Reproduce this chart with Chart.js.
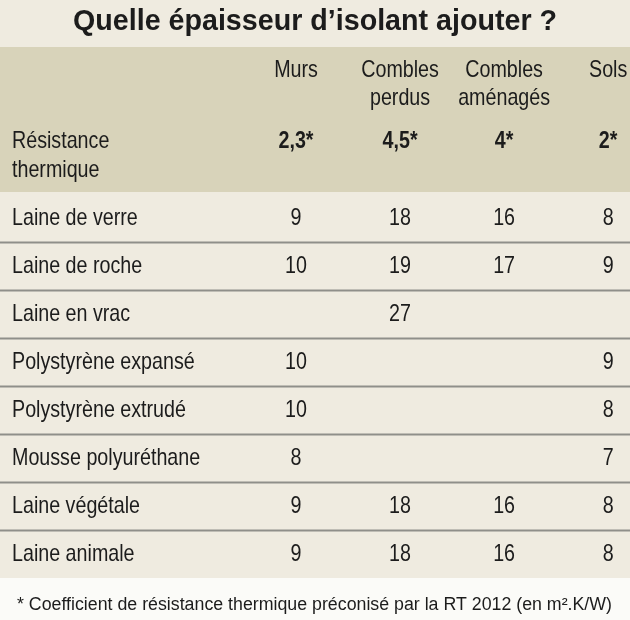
<!DOCTYPE html>
<html>
<head>
<meta charset="utf-8">
<script src="https://cdn.jsdelivr.net/npm/chart.js@4"></script>
<style>
  body { margin: 0; background: #fbfbf8; }
  #wrap { width: 630px; height: 620px; }
</style>
</head>
<body>
<div id="wrap"><canvas id="tbl"></canvas></div>
<script>
// Données du tableau
const title = 'Quelle épaisseur d\u2019isolant ajouter ?';
const columns = [['Murs'], ['Combles', 'perdus'], ['Combles', 'aménagés'], ['Sols']];
const resistance = ['2,3*', '4,5*', '4*', '2*'];
const materials = ['Laine de verre', 'Laine de roche', 'Laine en vrac', 'Polystyrène expansé',
                   'Polystyrène extrudé', 'Mousse polyuréthane', 'Laine végétale', 'Laine animale'];
const murs     = [9, 10, null, 10, 10, 8, 9, 9];
const perdus   = [18, 19, 27, null, null, null, 18, 18];
const amenages = [16, 17, null, null, null, null, 16, 16];
const sols     = [8, 9, null, 9, 8, 7, 8, 8];
const footnote = '* Coefficient de résistance thermique préconisé par la RT 2012 (en m².K/W)';

const series = [murs, perdus, amenages, sols];
const FONT = '"Liberation Sans", Arial, sans-serif';

const points = [];
series.forEach((vals, c) => {
    vals.forEach((v, r) => {
        if (v !== null) points.push({ x: c + 1, y: materials[r], v: v });
    });
});

// texte compressé horizontalement (police condensée)
function drawText(ctx, t, x, y, align, sx, fitWidth) {
    ctx.save();
    if (fitWidth) sx = fitWidth / ctx.measureText(t).width;
    ctx.translate(x, y);
    ctx.scale(sx, 1);
    ctx.textAlign = align;
    ctx.fillText(t, 0, 0);
    ctx.restore();
}

const SX = 0.82;

const tablePlugin = {
    id: 'tablePlugin',
    beforeDraw(chart) {
        const ctx = chart.ctx;
        const xs = chart.scales.x, ys = chart.scales.y;
        const W = chart.width;
        const rowH = ys.getPixelForValue(1) - ys.getPixelForValue(0);
        const top = ys.getPixelForValue(0) - rowH / 2;
        const bottom = ys.getPixelForValue(materials.length - 1) + rowH / 2;

        ctx.save();
        ctx.fillStyle = '#fbfbf8';
        ctx.fillRect(0, 0, W, chart.height);
        ctx.fillStyle = '#efebe0';
        ctx.fillRect(0, 0, W, bottom);
        ctx.fillStyle = '#d8d3ba';
        ctx.fillRect(0, top - 147, W, 145);

        // séparateurs
        ctx.strokeStyle = '#8f8f8a';
        ctx.lineWidth = 2;
        for (let i = 1; i < materials.length; i++) {
            const y = Math.round(top + i * rowH) + 0.5;
            ctx.beginPath(); ctx.moveTo(0, y); ctx.lineTo(W, y); ctx.stroke();
        }

        ctx.fillStyle = '#1c1c1c';
        ctx.textBaseline = 'middle';

        // titre
        ctx.font = 'bold 30px ' + FONT;
        drawText(ctx, title, W / 2, 22, 'center', 1, 484);

        // en-têtes
        ctx.font = '24px ' + FONT;
        columns.forEach((lines, c) => {
            const x = xs.getPixelForValue(c + 1);
            lines.forEach((t, i) => drawText(ctx, t, x, top - 124 + i * 28, 'center', SX));
        });
        ctx.font = 'bold 24px ' + FONT;
        resistance.forEach((t, c) => drawText(ctx, t, xs.getPixelForValue(c + 1), top - 53, 'center', SX));
        ctx.font = '24px ' + FONT;
        drawText(ctx, 'Résistance', 12, top - 53, 'left', SX);
        drawText(ctx, 'thermique', 12, top - 24, 'left', SX);

        // lignes
        materials.forEach(m => drawText(ctx, m, 12, ys.getPixelForValue(m), 'left', SX));
        points.forEach(p => drawText(ctx, String(p.v), xs.getPixelForValue(p.x), ys.getPixelForValue(p.y), 'center', SX));

        // note
        ctx.font = '18px ' + FONT;
        drawText(ctx, footnote, 17, 605, 'left', 1, 595);
        ctx.restore();
    }
};

new Chart(document.getElementById('tbl'), {
    type: 'scatter',
    data: { datasets: [{ data: points, pointRadius: 0, pointHoverRadius: 0 }] },
    options: {
        responsive: true,
        maintainAspectRatio: false,
        animation: false,
        events: [],
        layout: { padding: { left: 244, right: 0, top: 194, bottom: 42 } },
        plugins: { legend: { display: false }, tooltip: { enabled: false } },
        scales: {
            x: { type: 'linear', min: 0.5, max: 4.21, display: false },
            y: { type: 'category', labels: materials, offset: true, display: false }
        }
    },
    plugins: [tablePlugin]
});
</script>
</body>
</html>
